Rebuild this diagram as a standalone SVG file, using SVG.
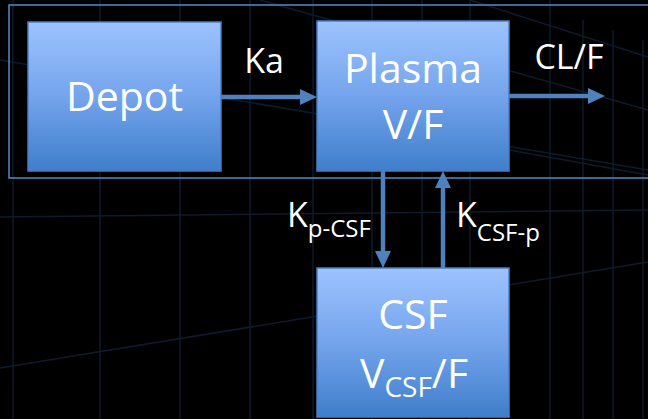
<svg xmlns="http://www.w3.org/2000/svg" width="648" height="419" viewBox="0 0 648 419">
  <defs>
    <linearGradient id="boxFill" x1="0" y1="0" x2="0" y2="1">
      <stop offset="0" stop-color="#9DC3FF"/>
      <stop offset="0.5" stop-color="#74A4EC"/>
      <stop offset="1" stop-color="#3F7ECB"/>
    </linearGradient>
    <!-- arrowhead tip sits 10px beyond the end of the shaft -->
    <marker id="arrowHead" viewBox="0 0 17 16" refX="7" refY="8" markerWidth="17" markerHeight="16" markerUnits="userSpaceOnUse" orient="auto">
      <path d="M0,0 L17,8 L0,16 Z" fill="#4F81BD"/>
    </marker>
    <style>
      .grid { stroke: #0B1C2C; stroke-width: 1.5; fill: none; }
      .box { fill: url(#boxFill); stroke: #4A7DC4; stroke-width: 1.5; }
      .flow { stroke: #4F81BD; stroke-width: 4.5; fill: none; marker-end: url(#arrowHead); }
      .big { font-family: "Open Sans", "Liberation Sans", sans-serif; fill: #FFFFFF; font-size: 41px; text-anchor: middle; }
      .lbl { font-family: "Open Sans", "Liberation Sans", sans-serif; fill: #FFFFFF; font-size: 34px; }
    </style>
  </defs>

  <!-- dark backdrop with faint perspective grid -->
  <rect x="0" y="0" width="648" height="419" fill="#000000"/>
  <g id="backdrop-grid">
    <line class="grid" x1="13" y1="0" x2="13" y2="419"/>
    <line class="grid" x1="100" y1="0" x2="100" y2="419"/>
    <line class="grid" x1="180" y1="0" x2="180" y2="419"/>
    <line class="grid" x1="250" y1="0" x2="250" y2="419"/>
    <line class="grid" x1="313" y1="0" x2="313" y2="419"/>
    <line class="grid" x1="372" y1="0" x2="372" y2="419"/>
    <line class="grid" x1="422" y1="0" x2="422" y2="419"/>
    <line class="grid" x1="470" y1="0" x2="470" y2="419"/>
    <line class="grid" x1="550" y1="0" x2="550" y2="419"/>
    <line class="grid" x1="583" y1="20" x2="583" y2="419"/>
    <line class="grid" x1="613" y1="30" x2="613" y2="419"/>
    <line class="grid" x1="643" y1="40" x2="643" y2="419"/>
    <line class="grid" x1="0" y1="217" x2="648" y2="210"/>
    <line class="grid" x1="0" y1="368" x2="648" y2="262"/>
    <line class="grid" x1="0" y1="60" x2="648" y2="170"/>
    <line class="grid" x1="260" y1="0" x2="648" y2="110"/>
    <line class="grid" x1="470" y1="0" x2="648" y2="57"/>
    <line class="grid" x1="509" y1="150" x2="648" y2="175"/>
  </g>

  <!-- outer frame around the absorption/elimination row -->
  <rect id="frame" x="9" y="5" width="650" height="173" fill="none" stroke="#4F81BD" stroke-width="1.6"/>

  <g id="connectors">
    <line class="flow" x1="221" y1="97" x2="307" y2="97"/>
    <line class="flow" x1="509" y1="96" x2="595" y2="96"/>
    <line class="flow" x1="383" y1="171" x2="383" y2="258"/>
    <line class="flow" x1="443" y1="268" x2="443" y2="181"/>
    <text class="lbl" x="264" y="73" text-anchor="middle">Ka</text>
    <text class="lbl" x="569" y="69" text-anchor="middle">CL/F</text>
    <text class="lbl" x="287" y="227">K<tspan font-size="24px" dy="10">p-CSF</tspan></text>
    <text class="lbl" x="456" y="227">K<tspan font-size="24px" dy="14">CSF-p</tspan></text>
  </g>

  <g id="depot">
    <rect class="box" x="28" y="22" width="193" height="149"/>
    <text class="big" x="124.5" y="111">Depot</text>
  </g>

  <g id="plasma">
    <rect class="box" x="317" y="21" width="192" height="150"/>
    <text class="big" x="413" y="83">Plasma</text>
    <text class="big" x="413" y="139">V/F</text>
  </g>

  <g id="csf">
    <rect class="box" x="317" y="268" width="192" height="149"/>
    <text class="big" x="413" y="329">CSF</text>
    <text class="big" x="414" y="388">V<tspan font-size="28px" dy="9">CSF</tspan><tspan dy="-9">/F</tspan></text>
  </g>
</svg>
